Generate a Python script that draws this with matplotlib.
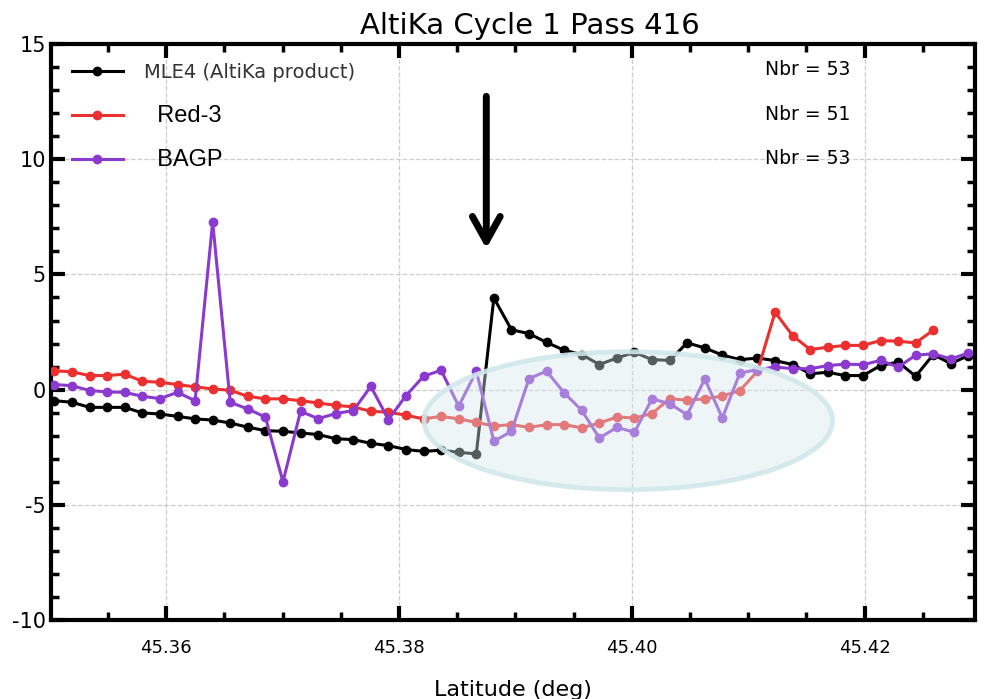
import matplotlib
matplotlib.use("Agg")
import matplotlib.pyplot as plt
from matplotlib.patches import Ellipse
from matplotlib.ticker import MultipleLocator

plt.rcParams['axes.unicode_minus'] = False

# along-track latitudes (deg)
lat = [45.35040, 45.35191, 45.35342, 45.35493, 45.35644, 45.35795, 45.35946,
       45.36097, 45.36248, 45.36399, 45.36550, 45.36701, 45.36852, 45.37003,
       45.37154, 45.37305, 45.37456, 45.37607, 45.37758, 45.37909, 45.38060,
       45.38211, 45.38362, 45.38513, 45.38664, 45.38815, 45.38966, 45.39117,
       45.39268, 45.39419, 45.39570, 45.39721, 45.39872, 45.40023, 45.40174,
       45.40325, 45.40476, 45.40627, 45.40778, 45.40929, 45.41080, 45.41231,
       45.41382, 45.41533, 45.41684, 45.41835, 45.41986, 45.42137, 45.42288,
       45.42439, 45.42590, 45.42741, 45.42892]

mle4 = [-0.48, -0.55, -0.77, -0.77, -0.77, -1.01, -1.06, -1.16, -1.27, -1.32,
        -1.45, -1.63, -1.78, -1.81, -1.88, -1.95, -2.13, -2.17, -2.33, -2.43,
        -2.60, -2.68, -2.63, -2.72, -2.79, 3.98, 2.60, 2.43, 2.05, 1.71,
        1.52, 1.09, 1.37, 1.62, 1.30, 1.27, 2.03, 1.81, 1.50, 1.30,
        1.37, 1.26, 1.09, 0.69, 0.75, 0.61, 0.61, 1.04, 1.20, 0.58,
        1.52, 1.13, 1.48]

red3 = [0.82, 0.77, 0.61, 0.61, 0.67, 0.36, 0.32, 0.22, 0.12, 0.03,
        -0.03, -0.29, -0.40, -0.40, -0.48, -0.58, -0.68, -0.75, -0.94, -0.98,
        -1.11, -1.27, -1.16, -1.27, -1.42, -1.58, -1.52, -1.64, -1.52, -1.52,
        -1.66, -1.45, -1.19, -1.23, -1.04, -0.39, -0.46, -0.40, -0.28, -0.04,
        0.80, 3.36, 2.34, 1.74, 1.84, 1.92, 1.92, 2.13, 2.10, 2.03,
        2.58]

bagp = [0.22, 0.17, -0.04, -0.10, -0.12, -0.29, -0.39, -0.12, -0.48, 7.28,
        -0.55, -0.84, -1.19, -4.00, -0.94, -1.26, -1.04, -0.91, 0.14, -1.30,
        -0.26, 0.58, 0.84, -0.72, 0.80, -2.24, -1.81, 0.48, 0.80, -0.14,
        -0.90, -2.10, -1.64, -1.85, -0.40, -0.61, -1.09, 0.46, -1.23, 0.72,
        0.87, 0.98, 0.91, 0.91, 1.04, 1.11, 1.08, 1.27, 0.98, 1.49,
        1.56, 1.33, 1.59]

fig = plt.figure(figsize=(9.9, 6.99), dpi=100)
ax = fig.add_axes([0.0515, 0.113, 0.9335, 0.824])

l1, = ax.plot(lat, mle4, '-o', color='black', lw=2.2, ms=6, zorder=3)
l2, = ax.plot(lat[:len(red3)], red3, '-o', color='#ec3030', lw=2.2, ms=6, zorder=3)
l3, = ax.plot(lat, bagp, '-o', color='#8b3acf', lw=2.2, ms=6, zorder=3)

# highlighted region
ax.add_patch(Ellipse((45.3997, -1.35), 0.0351, 5.99,
                     facecolor=(0.83, 0.91, 0.93, 0.4),
                     edgecolor=(0.82, 0.91, 0.92, 0.9), lw=3.5, zorder=4))

ax.annotate('', xy=(45.3875, 6.0), xytext=(45.3875, 12.85),
            arrowprops=dict(arrowstyle='->,head_length=0.9,head_width=0.5',
                            lw=5, color='black', mutation_scale=20), zorder=5)

ax.set_xlim(45.3501, 45.4295)
ax.set_ylim(-10, 15)
ax.xaxis.set_major_locator(MultipleLocator(0.02))
ax.xaxis.set_minor_locator(MultipleLocator(0.005))
ax.yaxis.set_major_locator(MultipleLocator(5))
ax.yaxis.set_minor_locator(MultipleLocator(1))
ax.xaxis.set_major_formatter(matplotlib.ticker.FormatStrFormatter('%.2f'))
ax.tick_params(which='both', direction='in', top=True, right=True)
ax.tick_params(which='major', length=10, width=3)
ax.tick_params(which='minor', length=6, width=2.5)
ax.tick_params(axis='x', pad=14, labelsize=13)
ax.tick_params(axis='y', labelsize=15)
for s in ax.spines.values():
    s.set_linewidth(3)
ax.grid(True, which='major', ls='--', color='#cccccc', lw=0.9)
ax.set_axisbelow(True)

ax.set_title('AltiKa Cycle 1 Pass 416', fontsize=21, pad=7, x=0.518)
ax.set_xlabel('Latitude (deg)', fontsize=16, labelpad=16)

leg = ax.legend([l1, l2, l3], ['MLE4 (AltiKa product)', '  Red-3', '  BAGP'],
                loc='upper left', frameon=False, handlelength=2.6,
                handletextpad=1.08, labelspacing=1.15, fontsize=14,
                bbox_to_anchor=(0.004, 0.997))
leg.get_texts()[0].set_color('#333333')
for t in leg.get_texts()[1:]:
    t.set_fontfamily('Liberation Sans')
    t.set_fontsize(17)

for yy, txt in [(0.955, 'Nbr = 53'), (0.877, 'Nbr = 51'), (0.802, 'Nbr = 53')]:
    ax.text(0.773, yy, txt, transform=ax.transAxes, fontsize=13.5,
            va='center', ha='left')

fig.savefig('out.png', dpi=100)
